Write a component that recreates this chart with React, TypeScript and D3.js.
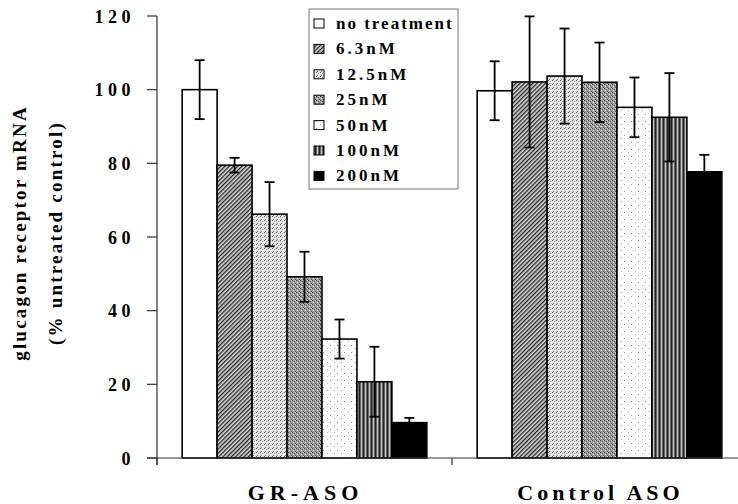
import React from "react";
import * as d3 from "d3";

// chart data
const categories = ["GR-ASO", "Control ASO"];
const seriesNames = ["no treatment", "6.3nM", "12.5nM", "25nM", "50nM", "100nM", "200nM"];
const grAsoMeans = [100, 79.5, 66.2, 49.2, 32.3, 20.7, 9.6];
const grAsoErrors = [8, 2, 8.7, 6.8, 5.3, 9.5, 1.3];
const controlMeans = [99.7, 102.1, 103.7, 102.0, 95.2, 92.5, 77.7];
const controlErrors = [8, 17.8, 12.9, 10.8, 8.1, 12, 4.6];
const yTicks = [0, 20, 40, 60, 80, 100, 120];

const fills = [
  "#ffffff",
  "url(#hatch)",
  "url(#stippleLight)",
  "url(#stippleDark)",
  "url(#sparse)",
  "url(#vstripe)",
  "#000000",
];

const width = 738;
const height = 504;
const margin = { top: 16, left: 157, right: -9, bottom: 46 };
const serif = "Liberation Serif";

const App = () => {
  const x = d3
    .scaleBand<string>()
    .domain(categories)
    .range([margin.left, width - margin.right])
    .paddingInner(0)
    .paddingOuter(0);

  const xInner = d3
    .scaleBand<string>()
    .domain(seriesNames)
    .range([0, x.bandwidth()])
    .paddingInner(0)
    .paddingOuter(0.72);

  const y = d3
    .scaleLinear()
    .domain([0, 120])
    .range([height - margin.bottom, margin.top]);

  const groups = [
    { cat: categories[0], means: grAsoMeans, errs: grAsoErrors },
    { cat: categories[1], means: controlMeans, errs: controlErrors },
  ];

  const capW = 5;

  return (
    <svg
      width={width}
      height={height}
      style={{ position: "absolute", left: 0, top: 0, background: "#fff" }}
    >
      <defs>
        <pattern id="hatch" width="3" height="3" patternUnits="userSpaceOnUse" patternTransform="rotate(45)">
          <rect width="3" height="3" fill="#d8d8d8" />
          <rect width="1.3" height="3" fill="#222" />
        </pattern>
        <pattern id="stippleLight" width="4" height="4" patternUnits="userSpaceOnUse">
          <rect width="4" height="4" fill="#e2e2e2" />
          <rect x="0" y="0" width="1" height="1" fill="#555" />
          <rect x="2" y="1" width="1" height="1" fill="#999" />
          <rect x="1" y="3" width="1" height="1" fill="#777" />
          <rect x="3" y="2" width="1" height="1" fill="#fff" />
        </pattern>
        <pattern id="stippleDark" width="4" height="4" patternUnits="userSpaceOnUse">
          <rect width="4" height="4" fill="#a0a0a0" />
          <rect x="0" y="0" width="1" height="1" fill="#333" />
          <rect x="2" y="1" width="1" height="1" fill="#555" />
          <rect x="1" y="2" width="1" height="1" fill="#e8e8e8" />
          <rect x="3" y="3" width="1" height="1" fill="#444" />
          <rect x="3" y="0" width="1" height="1" fill="#ddd" />
        </pattern>
        <pattern id="sparse" width="7" height="7" patternUnits="userSpaceOnUse">
          <rect width="7" height="7" fill="#fbfbfb" />
          <rect x="1" y="2" width="1" height="1" fill="#999" />
          <rect x="5" y="5" width="1" height="1" fill="#bbb" />
        </pattern>
        <pattern id="vstripe" width="4" height="4" patternUnits="userSpaceOnUse">
          <rect width="4" height="4" fill="#666" />
          <rect x="1" width="1" height="4" fill="#c8c8c8" />
          <rect x="3" width="1" height="4" fill="#222" />
        </pattern>
      </defs>

      {/* bars */}
      {groups.map((g) =>
        seriesNames.map((s, i) => {
          const bx = (x(g.cat) ?? 0) + (xInner(s) ?? 0);
          const bw = xInner.bandwidth();
          return (
            <rect
              key={g.cat + s}
              x={bx}
              y={y(g.means[i])}
              width={bw}
              height={y(0) - y(g.means[i])}
              fill={fills[i]}
              stroke="#000"
              strokeWidth={1.6}
            />
          );
        })
      )}

      {/* error bars */}
      {groups.map((g) =>
        seriesNames.map((s, i) => {
          const cx = (x(g.cat) ?? 0) + (xInner(s) ?? 0) + xInner.bandwidth() / 2;
          const top = y(g.means[i] + g.errs[i]);
          const bot = y(g.means[i] - g.errs[i]);
          return (
            <g key={"e" + g.cat + s} stroke="#000" strokeWidth={1.8}>
              <line x1={cx} x2={cx} y1={top} y2={bot} />
              <line x1={cx - capW} x2={cx + capW} y1={top} y2={top} />
              <line x1={cx - capW} x2={cx + capW} y1={bot} y2={bot} />
            </g>
          );
        })
      )}

      {/* y axis */}
      <g stroke="#333" strokeWidth={1.2}>
        <line x1={margin.left} x2={margin.left} y1={y(120)} y2={y(0) + 7} />
        {yTicks.map((t) => (
          <line key={t} x1={margin.left - 10} x2={margin.left} y1={y(t)} y2={y(t)} />
        ))}
      </g>
      {yTicks.map((t) => (
        <text
          key={"l" + t}
          x={135}
          y={y(t) + 6.5}
          textAnchor="end"
          fontFamily={serif}
          fontWeight="bold"
          fontSize={18}
          letterSpacing={4.5}
          fill="#000"
        >
          {t}
        </text>
      ))}

      {/* x axis */}
      <g stroke="#333" strokeWidth={1.2}>
        <line x1={margin.left - 10} x2={width} y1={y(0)} y2={y(0)} />
        {categories.map((c) => (
          <line key={c} x1={x(c) ?? 0} x2={x(c) ?? 0} y1={y(0)} y2={y(0) + 7} />
        ))}
      </g>
      {categories.map((c) => (
        <text
          key={"c" + c}
          x={(x(c) ?? 0) + x.bandwidth() / 2 + 1}
          y={500}
          textAnchor="middle"
          fontFamily={serif}
          fontWeight="bold"
          fontSize={22}
          letterSpacing={c === "GR-ASO" ? 5 : 4}
          fill="#000"
        >
          {c}
        </text>
      ))}

      {/* y axis title */}
      <g transform="translate(26,233) rotate(-90)" fontFamily={serif} fontWeight="bold">
        <text textAnchor="middle" fontSize={19} letterSpacing={2.2} fill="#000">
          glucagon receptor mRNA
        </text>
        <text y={36} textAnchor="middle" fontSize={19} letterSpacing={2.2} fill="#000">
          (% untreated control)
        </text>
      </g>

      {/* legend */}
      <rect x={309} y={9} width={149} height={180} fill="#fff" stroke="#777" strokeWidth={1} />
      {seriesNames.map((l, i) => {
        const cy = 23.5 + i * 25.4;
        return (
          <g key={"lg" + l}>
            <rect x={314} y={cy - 4.5} width={10} height={9} fill={fills[i]} stroke="#000" strokeWidth={1} />
            <text
              x={336}
              y={cy + 5.5}
              fontFamily={serif}
              fontWeight="bold"
              fontSize={17}
              letterSpacing={i === 0 ? 2 : 3}
              fill="#000"
            >
              {l}
            </text>
          </g>
        );
      })}
    </svg>
  );
};

export default App;
